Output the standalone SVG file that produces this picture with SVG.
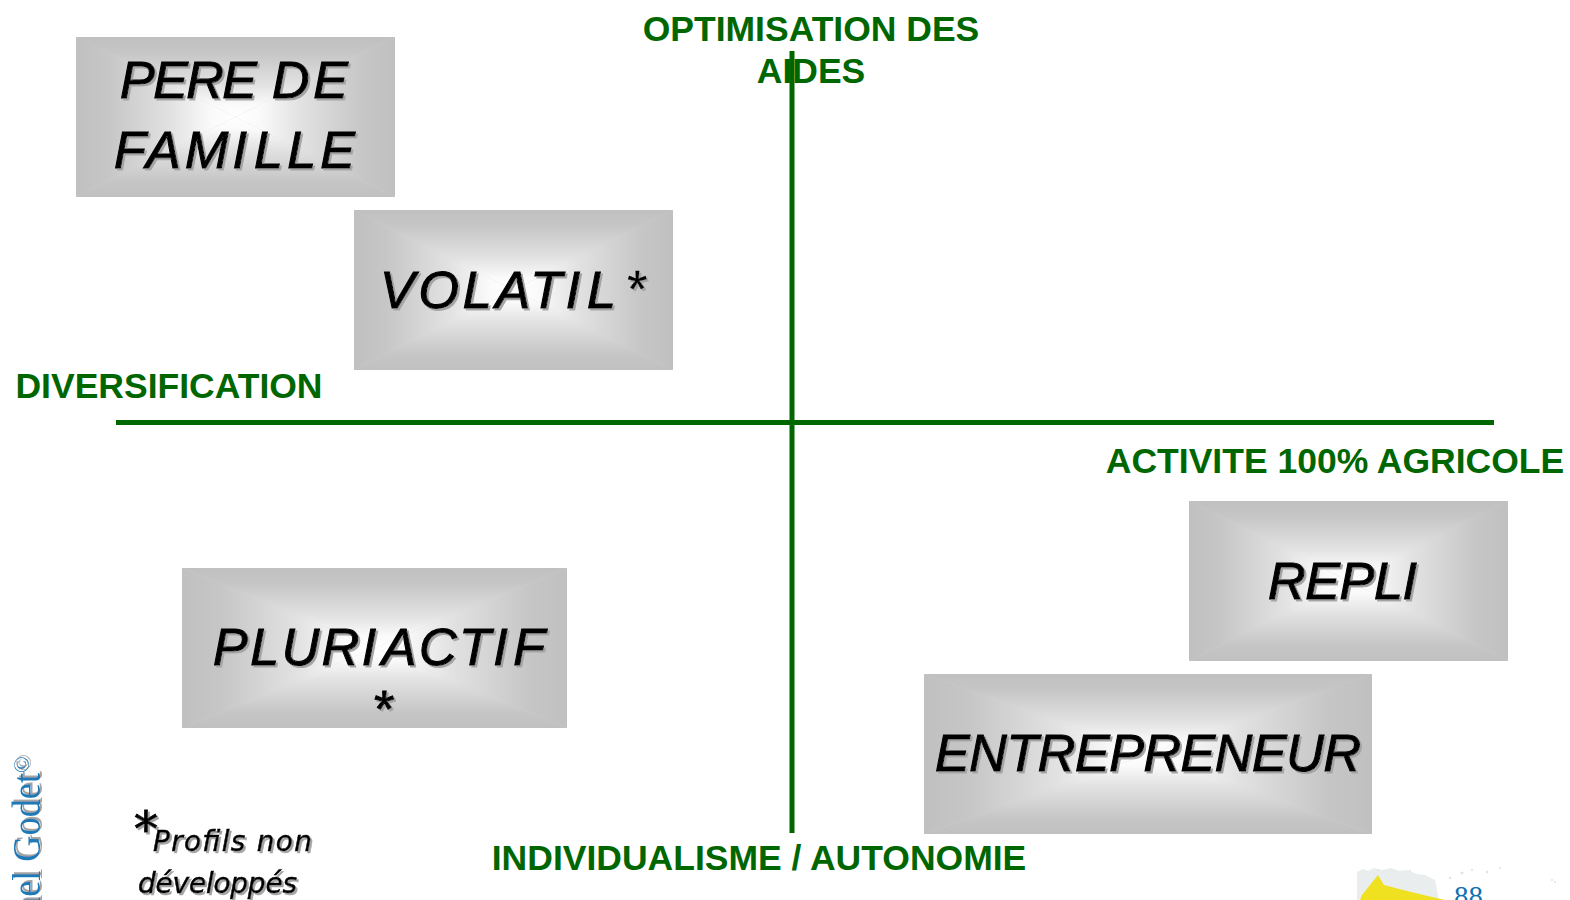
<svg xmlns="http://www.w3.org/2000/svg" width="1570" height="900" viewBox="0 0 1570 900">
<style>
.l{font:bold 35.5px "Liberation Sans",Arial,sans-serif;fill:#006600;text-anchor:middle}
.n{font:italic 52px "Liberation Sans",Arial,sans-serif;fill:#000;stroke:#000;stroke-width:1.1px;filter:url(#sh)}
.f{font:italic 28px "DejaVu Sans",sans-serif;fill:#000;stroke:#000;stroke-width:.5px;filter:url(#sh)}
.c{font:40px "Liberation Serif",serif;fill:#1a7ab8;filter:url(#sh)}
</style>
<defs>
<filter id="sh" x="-5%" y="-10%" width="110%" height="125%"><feDropShadow dx="2" dy="2" stdDeviation=".6" flood-color="#a4a4a4"/></filter>
<linearGradient id="gT" x1="0" y1="0" x2="0" y2="1"><stop offset="0" stop-color="#c0c0c0"/><stop offset=".2" stop-color="#c6c6c6"/><stop offset=".6" stop-color="#e2e2e2"/><stop offset=".85" stop-color="#fafafa"/><stop offset="1" stop-color="#fff"/></linearGradient>
<linearGradient id="gB" href="#gT" x1="0" y1="1" x2="0" y2="0"/>
<linearGradient id="gL" href="#gT" x1="0" y1="0" x2="1" y2="0"/>
<linearGradient id="gR" href="#gT" x1="1" y1="0" x2="0" y2="0"/>
<g id="tile">
<rect width="1" height="1" fill="#d4d4d4"/>
<polygon points="0,0 1,0 .5,.5" fill="url(#gT)"/>
<polygon points="0,1 1,1 .5,.5" fill="url(#gB)"/>
<polygon points="0,0 0,1 .5,.5" fill="url(#gL)"/>
<polygon points="1,0 1,1 .5,.5" fill="url(#gR)"/>
</g>
</defs>
<rect width="1570" height="900" fill="#fff"/>
<g id="pere"><use href="#tile" transform="translate(76,37) scale(319,160)"/>
<text class="n" x="120" y="98" textLength="137">PERE</text><text class="n" x="272" y="98" textLength="76">DE</text>
<text class="n" x="114" y="168" textLength="241">FAMI<tspan dx="3">LLE</tspan></text></g>
<g id="volatil"><use href="#tile" transform="translate(354,210) scale(319,160)"/>
<text class="n" x="380" y="308" textLength="236">VOLATI<tspan dx="3">L</tspan></text>
<text class="n" x="625" y="307" style="stroke-width:.3px">*</text></g>
<g id="pluriactif"><use href="#tile" transform="translate(182,568) scale(385,160)"/>
<text class="n" x="213" y="665" textLength="332">PLURI<tspan dx="3">ACTI</tspan><tspan dx="3">F</tspan></text>
<text class="n" x="372" y="727">*</text></g>
<g id="repli"><use href="#tile" transform="translate(1189,501) scale(319,160)"/>
<text class="n" x="1268" y="599" textLength="149">REPLI</text></g>
<g id="entrepreneur"><use href="#tile" transform="translate(924,674) scale(448,160)"/>
<text class="n" x="935" y="771" textLength="426">ENTREPRENEUR</text></g>
<g id="axis-labels">
<text class="l" x="811" y="41">OPTIMISATION DES</text>
<text class="l" x="811" y="83">AIDES</text>
<text class="l" x="169" y="398">DIVERSIFICATION</text>
<text class="l" x="1335" y="473">ACTIVITE 100% AGRICOLE</text>
<text class="l" x="759" y="870">INDIVIDUALISME / AUTONOMIE</text>
</g>
<g id="connectors" stroke="#006600" stroke-width="5" fill="none">
<line x1="792" y1="51" x2="792" y2="833"/>
<line x1="116" y1="422.500" x2="1494" y2="422.500"/>
</g>
<g id="note">
<text class="f" x="134" y="846" style="font-size:48px;stroke-width:1px">*</text>
<text class="f" x="153" y="851" textLength="159">Profils non</text>
<text class="f" x="138" y="893" textLength="159">développés</text>
</g>
<g id="credit">
<text class="c" transform="translate(40,915) rotate(-90)" textLength="142" lengthAdjust="spacingAndGlyphs">nel Godet</text>
<text class="c" transform="translate(29,773) rotate(-90)" style="font-size:22px">©</text>
</g>
<g id="logo" fill="#dfe3e3">
<path d="M1357 872l6-3 5 2 6-3 8 2 9-2 8 3 8-1 10 4 8 1 10 5 4 20H1357Z" opacity=".65"/>
<circle cx="1462" cy="873" r="1.500"/><circle cx="1472" cy="870" r="1"/><circle cx="1487" cy="872" r="1.200"/><circle cx="1450" cy="878" r="1.200"/><circle cx="1500" cy="868" r="1"/><circle cx="1555" cy="882" r="1"/><circle cx="1552" cy="880" r="1"/><circle cx="1378" cy="870" r="1"/><circle cx="1410" cy="871" r="1"/>
<path d="M1362 895L1378 875L1384 885Q1410 892 1445 900H1360Z" fill="#efe020"/>
<text x="1454" y="906" font-family="Liberation Serif,serif" font-size="29" fill="#1070b0">88</text>
</g>
</svg>
